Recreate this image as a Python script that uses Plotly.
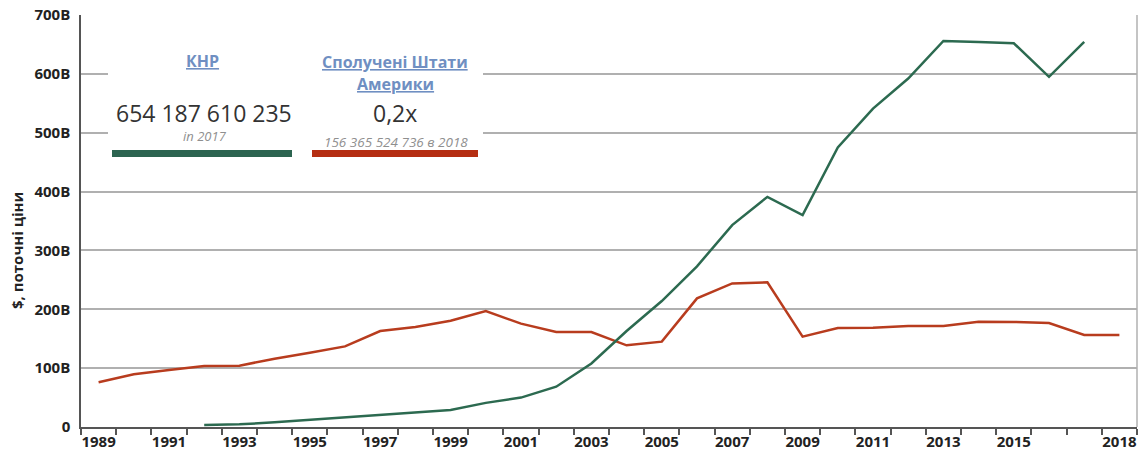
import plotly.graph_objects as go

# data (billions of current US$)
years_us = list(range(1989, 2019))
us_values = [76, 89.5, 97, 103.6, 104.2, 116, 126, 137, 163, 170,
             180.6, 197, 175.6, 161.4, 161.4, 138.8, 145, 218.6, 244, 245.8,
             153.5, 168, 168.8, 171.6, 171.6, 179, 178.5, 176.7, 156.5, 156.4]

years_cn = list(range(1992, 2018))
cn_values = [3.4, 4.5, 8, 12, 16, 20, 24.4, 29, 41, 50,
             68.5, 108, 163, 214, 273, 343, 391, 360, 475, 541,
             592, 656, 654, 652, 595, 654.2]

x_tick_years = [1989, 1991, 1993, 1995, 1997, 1999, 2001, 2003, 2005,
                2007, 2009, 2011, 2013, 2015, 2018]
y_tick_vals = [0, 100, 200, 300, 400, 500, 600, 700]
y_tick_text = ["0", "100B", "200B", "300B", "400B", "500B", "600B", "700B"]

GREEN = "#2c6a50"
RED = "#b83c1e"
LINK = "#6f8fc2"
FONT = "Open Sans"

W, H = 1144, 450
L, R, T, B = 81, 7, 15, 23


def px(x):
    return (x - L) / (W - L - R)


def py(y):
    return (H - B - y) / (H - T - B)


fig = go.Figure()
fig.add_trace(go.Scatter(x=years_us, y=us_values, mode="lines",
                         line=dict(color=RED, width=2.5), name="США"))
fig.add_trace(go.Scatter(x=years_cn, y=cn_values, mode="lines",
                         line=dict(color=GREEN, width=2.5), name="КНР"))

shapes = [
    # right border
    dict(type="line", xref="paper", yref="paper", x0=1, x1=1, y0=0, y1=1,
         line=dict(color="#b0b0b0", width=1.5)),
    # card background hiding gridlines
    dict(type="rect", xref="paper", yref="paper", x0=px(108), x1=px(483),
         y0=py(162), y1=py(44), fillcolor="white", line=dict(width=0), layer="above"),
    dict(type="rect", xref="paper", yref="paper", x0=px(112), x1=px(292),
         y0=py(157), y1=py(150), fillcolor="#2c6450", line=dict(width=0), layer="above"),
    dict(type="rect", xref="paper", yref="paper", x0=px(312), x1=px(478),
         y0=py(157), y1=py(150), fillcolor="#b52e12", line=dict(width=0), layer="above"),
]

annotations = [
    dict(text="<b><u>КНР</u></b>", x=px(202), y=py(61), font=dict(size=16, color=LINK)),
    dict(text="654 187 610 235", x=px(204), y=py(113), font=dict(size=23, color="#333333")),
    dict(text="<i>in 2017</i>", x=px(205), y=py(136), font=dict(size=13, color="#8f8f8f")),
    dict(text="<b><u>Сполучені Штати</u></b>", x=px(395), y=py(62), font=dict(size=16, color=LINK)),
    dict(text="<b><u>Америки</u></b>", x=px(395), y=py(84), font=dict(size=16, color=LINK)),
    dict(text="0,2x", x=px(395), y=py(113), font=dict(size=23, color="#333333")),
    dict(text="<i>156 365 524 736 в 2018</i>", x=px(396), y=py(142), font=dict(size=13.5, color="#8f8f8f")),
    dict(text="<b>$, поточні ціни</b>", x=px(17), y=py(251), textangle=-90,
         font=dict(size=15, color="#222222")),
]
for a in annotations:
    a.update(xref="paper", yref="paper", showarrow=False, xanchor="center", yanchor="middle")
    a["font"]["family"] = FONT

fig.update_layout(
    width=W, height=H,
    margin=dict(l=L, r=R, t=T, b=B),
    paper_bgcolor="white", plot_bgcolor="white",
    showlegend=False,
    shapes=shapes,
    annotations=annotations,
    font=dict(family=FONT, size=13, color="#222222"),
    xaxis=dict(
        range=[1988.5, 2018.5],
        tickvals=x_tick_years,
        ticks="outside", ticklen=0,
        showgrid=False, zeroline=False, automargin=False,
        showline=True, linecolor="#555555", linewidth=1.5,
        tickfont=dict(family=FONT, size=15, color="#222222", weight="bold"),
        minor=dict(tick0=1988.5, dtick=1, ticks="outside", ticklen=6,
                   tickcolor="#555555", tickwidth=1.5, showgrid=False),
    ),
    yaxis=dict(
        range=[0, 700],
        tickvals=y_tick_vals, ticktext=y_tick_text,
        showgrid=True, gridcolor="#b0b0b0", gridwidth=1.5,
        zeroline=False, automargin=False,
        showline=True, linecolor="#555555", linewidth=1.5,
        ticks="", ticklabelstandoff=6,
        tickfont=dict(family=FONT, size=15, color="#222222", weight="bold"),
    ),
)

# page has a default 8px body margin; drop it so the figure fills the window
fig.write_html("out.html", config={"displayModeBar": False},
               post_script="document.body.style.margin = '0';")
